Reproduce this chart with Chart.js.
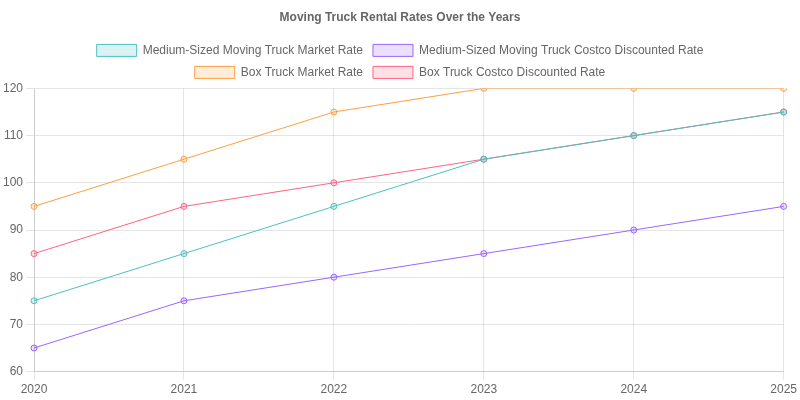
<!DOCTYPE html>
<html>
<head>
<meta charset="utf-8">
<script src="https://cdn.jsdelivr.net/npm/chart.js@4"></script>
<style>
  body { margin: 0; background: #fff; }
  #wrap { width: 800px; height: 400px; }
</style>
</head>
<body>
<div id="wrap"><canvas id="chart"></canvas></div>
<script>
const years = ['2020', '2021', '2022', '2023', '2024', '2025']
const mediumMarket = [75, 85, 95, 105, 110, 115]
const mediumCostco = [65, 75, 80, 85, 90, 95]
const boxMarket = [95, 105, 115, 120, 120, 120]
const boxCostco = [85, 95, 100, 105, 110, 115]

function series(label, data, rgb){
    return {
        label: label,
        data: data,
        borderColor: `rgb(${rgb})`,
        backgroundColor: `rgba(${rgb},0.2)`,
        borderWidth: 1,
        pointRadius: 3,
        pointBorderWidth: 1,
        fill: false,
        tension: 0
    }
}

new Chart(document.getElementById('chart'), {
    type: 'line',
    data: {
        labels: years,
        datasets: [
            series('Medium-Sized Moving Truck Market Rate', mediumMarket, '75,192,192'),
            series('Medium-Sized Moving Truck Costco Discounted Rate', mediumCostco, '153,102,255'),
            series('Box Truck Market Rate', boxMarket, '255,159,64'),
            series('Box Truck Costco Discounted Rate', boxCostco, '255,99,132'),
        ]
    },
    options: {
        responsive: true,
        maintainAspectRatio: false,
        animation: false,
        plugins: {
            title: {
                display: true,
                text: 'Moving Truck Rental Rates Over the Years'
            },
            legend: {
                display: true,
                position: 'top'
            }
        },
        scales: {
            y: {
                min: 60,
                max: 120,
                ticks: { stepSize: 10 }
            }
        }
    }
})
</script>
</body>
</html>
